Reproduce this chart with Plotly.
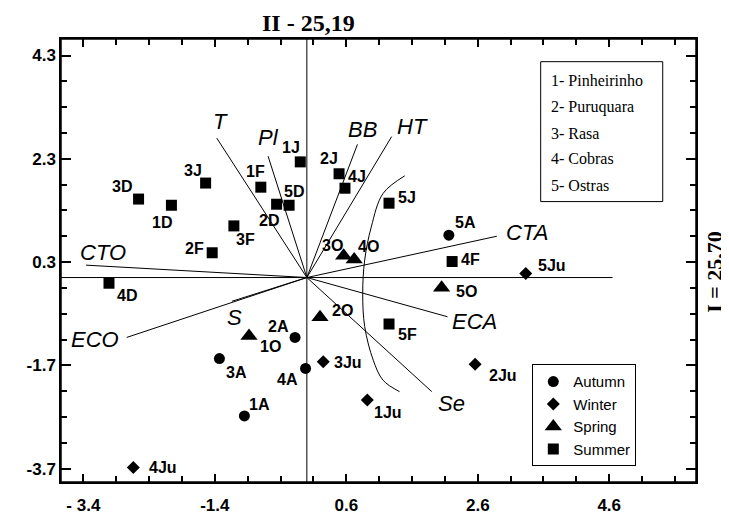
import plotly.graph_objects as go

# ---------------- data ----------------
seasons = ["Autumn", "Winter", "Spring", "Summer"]

autumn_labels = ["1A", "2A", "3A", "4A", "5A"]
autumn_x = [-0.95, -0.18, -1.33, -0.02, 2.16]
autumn_y = [-2.68, -1.16, -1.57, -1.76, 0.82]

winter_labels = ["1Ju", "2Ju", "3Ju", "4Ju", "5Ju"]
winter_x = [0.92, 2.56, 0.25, -2.64, 3.33]
winter_y = [-2.37, -1.68, -1.63, -3.68, 0.08]

spring_labels = ["1O", "2O", "3O", "4O", "5O"]
spring_x = [-0.88, 0.20, 0.56, 0.72, 2.05]
spring_y = [-1.13, -0.77, 0.42, 0.35, -0.20]

summer_labels = ["1J", "2J", "3J", "4J", "5J", "1D", "2D", "3D", "4D", "5D",
                 "1F", "2F", "3F", "4F", "5F"]
summer_x = [-0.10, 0.49, -1.54, 0.58, 1.25, -2.06, -0.46, -2.56, -3.01, -0.27,
            -0.70, -1.44, -1.11, 2.21, 1.25]
summer_y = [2.24, 2.01, 1.83, 1.73, 1.44, 1.40, 1.42, 1.52, -0.11, 1.40,
            1.75, 0.48, 1.00, 0.31, -0.90]

vector_names = ["T", "Pl", "BB", "HT", "CTA", "ECA", "Se", "CTO", "ECO", "S"]
vector_x = [-1.37, -0.59, 0.77, 1.29, 2.89, 2.14, 1.90, -3.36, -2.74, -1.14]
vector_y = [2.70, 2.35, 2.58, 2.73, 0.80, -0.76, -2.21, 0.24, -1.16, -0.46]

arc_x = [1.49, 1.16, 0.98, 0.88, 0.85, 0.88, 1.01, 1.16, 1.41]
arc_y = [1.97, 1.63, 0.98, 0.34, -0.31, -0.95, -1.60, -1.99, -2.21]

x_tick_vals = [-3.4, -1.4, 0.6, 2.6, 4.6]
x_tick_text = ["- 3.4", "-1.4", "0.6", "2.6", "4.6"]
y_tick_vals = [4.3, 2.3, 0.3, -1.7, -3.7]
y_tick_text = ["4.3", "2.3", "0.3", "-1.7", "-3.7"]

sites = ["1- Pinheirinho", "2- Puruquara", "3- Rasa", "4- Cobras", "5- Ostras"]

axis_title_x = "I = 25,70"
axis_title_y = "II - 25,19"

# ---------------- styles ----------------
point_label_offset = {
    "1J": (-9, -14), "2J": (-10, -15), "3J": (-13, -13), "4J": (12, -12),
    "5J": (18, -6), "1D": (-9, 17), "2D": (-8, 16), "3D": (-17, -13),
    "4D": (18, 12), "5D": (5, -14), "1F": (-5, -16), "2F": (-18, -4),
    "3F": (12, 14), "4F": (18, -2), "5F": (18, 10),
    "1A": (15, -11), "2A": (-17, -11), "3A": (17, 14), "4A": (-18, 11),
    "5A": (17, -13),
    "1Ju": (21, 13), "2Ju": (28, 11), "3Ju": (25, 1), "4Ju": (30, 0),
    "5Ju": (26, -8),
    "1O": (21, 11), "2O": (22, -7), "3O": (-11, -10), "4O": (14, -13),
    "5O": (25, 4),
}
vector_label_offset = {
    "T": (4, -17), "Pl": (0, -19), "BB": (5, -15), "HT": (21, -10),
    "CTA": (30, -4), "ECA": (27, 5), "Se": (20, 12), "CTO": (17, -13),
    "ECO": (-32, 2), "S": (3, 16),
}
symbols = {"Autumn": "circle", "Winter": "diamond", "Spring": "triangle-up",
           "Summer": "square"}
sizes = {"Autumn": 11, "Winter": 10, "Spring": 15, "Summer": 11}

SANS = "Liberation Sans, Arial, sans-serif"
SERIF = "Liberation Serif, Times New Roman, serif"

fig = go.Figure()

vx, vy = [], []
for ex, ey in zip(vector_x, vector_y):
    vx += [0, ex, None]
    vy += [0, ey, None]
fig.add_trace(go.Scatter(x=vx, y=vy, mode="lines",
                         line=dict(color="black", width=1),
                         showlegend=False, hoverinfo="skip"))
fig.add_trace(go.Scatter(x=arc_x, y=arc_y, mode="lines",
                         line=dict(color="black", width=1, shape="spline"),
                         showlegend=False, hoverinfo="skip"))

groups = {
    "Autumn": (autumn_labels, autumn_x, autumn_y),
    "Winter": (winter_labels, winter_x, winter_y),
    "Spring": (spring_labels, spring_x, spring_y),
    "Summer": (summer_labels, summer_x, summer_y),
}
for s in seasons:
    labs, xs, ys = groups[s]
    fig.add_trace(go.Scatter(
        x=xs, y=ys, mode="markers", name=s, text=labs,
        marker=dict(symbol=symbols[s], size=sizes[s], color="black",
                    line=dict(width=0)),
    ))
    for lab, x, y in zip(labs, xs, ys):
        dx, dy = point_label_offset[lab]
        fig.add_annotation(x=x, y=y, text="<b>%s</b>" % lab, showarrow=False,
                           xshift=dx, yshift=-dy,
                           font=dict(family=SANS, size=16, color="black"))

for name, ex, ey in zip(vector_names, vector_x, vector_y):
    dx, dy = vector_label_offset[name]
    fig.add_annotation(x=ex, y=ey, text="<i>%s</i>" % name, showarrow=False,
                       xshift=dx, yshift=-dy,
                       font=dict(family=SANS, size=22, color="black"))

x_range = [-3.74, 5.92]
y_range = [-3.96, 4.62]

fig.add_shape(type="line", xref="x", yref="y", x0=x_range[0], x1=4.65, y0=0, y1=0,
              line=dict(color="black", width=1))
fig.add_shape(type="line", xref="x", yref="paper", x0=0, x1=0, y0=0, y1=1,
              line=dict(color="black", width=1))
fig.add_shape(type="rect", xref="paper", yref="paper", x0=0, x1=1, y0=0, y1=1,
              line=dict(color="black", width=1.5), fillcolor="rgba(0,0,0,0)")

fig.add_shape(type="rect", xref="paper", yref="paper",
              x0=0.7554, x1=0.9476, y0=0.633, y1=0.9488,
              line=dict(color="black", width=1), fillcolor="white")
site_rows = [0.9074, 0.8472, 0.7871, 0.7307, 0.6704]
for txt, yy in zip(sites, site_rows):
    fig.add_annotation(xref="paper", yref="paper", x=0.7685, y=yy, text=txt,
                       showarrow=False, xanchor="left", yanchor="middle",
                       font=dict(family=SERIF, size=16, color="black"))

fig.add_annotation(xref="paper", yref="paper", x=0.389, y=1.036,
                   text="<b>%s</b>" % axis_title_y, showarrow=False,
                   yanchor="middle", font=dict(family=SERIF, size=24, color="black"))
fig.add_annotation(xref="paper", yref="paper", x=1.028, y=0.474,
                   text="<b>%s</b>" % axis_title_x, showarrow=False, textangle=-90,
                   xanchor="center", yanchor="middle",
                   font=dict(family=SERIF, size=22, color="black"))

tickfont = dict(family=SANS, size=17, color="black")
fig.update_xaxes(range=x_range, tickvals=x_tick_vals,
                 ticktext=["<b>%s</b>" % t for t in x_tick_text],
                 ticks="inside", ticklen=8, tickcolor="black", tickwidth=1.5,
                 mirror="allticks", showline=True, linecolor="black", linewidth=1.5,
                 showgrid=False, zeroline=False, tickfont=tickfont,
                 automargin=False, ticklabelstandoff=7,
                 minor=dict(dtick=0.5, tick0=-3.4, ticks="inside", ticklen=6,
                            tickcolor="black", tickwidth=1.5, showgrid=False))
fig.update_yaxes(range=y_range, tickvals=y_tick_vals,
                 ticktext=["<b>%s</b>" % t for t in y_tick_text],
                 ticks="inside", ticklen=10, tickcolor="black", tickwidth=1.5,
                 mirror="allticks", showline=True, linecolor="black", linewidth=1.5,
                 showgrid=False, zeroline=False, tickfont=tickfont,
                 automargin=False,
                 minor=dict(dtick=0.5, tick0=0.3, ticks="inside", ticklen=6,
                            tickcolor="black", tickwidth=1.5, showgrid=False))

# page body adds an 8px margin, so the figure is sized to fit the window
fig.update_layout(
    width=721, height=506,
    margin=dict(l=53, r=33, t=31, b=32, autoexpand=False),
    plot_bgcolor="white", paper_bgcolor="white",
    showlegend=True,
    legend=dict(x=0.7422, y=0.2657, xanchor="left", yanchor="top",
                bgcolor="white", bordercolor="black", borderwidth=1,
                font=dict(family=SANS, size=15, color="black"),
                tracegroupgap=0, itemwidth=30, itemsizing="trace"),
)

fig.write_html("out.html")
